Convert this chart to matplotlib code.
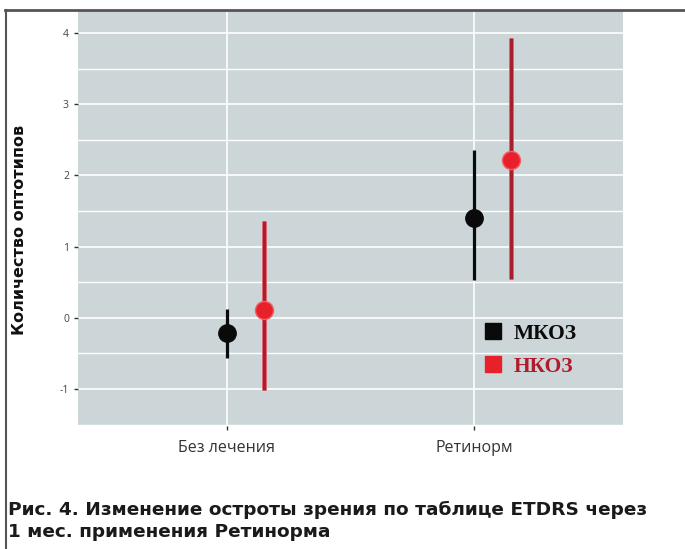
import matplotlib.pyplot as plt
import matplotlib.patheffects as pe
import numpy as np
from matplotlib.lines import Line2D

# data
groups = ["Без лечения", "Ретинорм"]
mkoz_mean = [-0.21, 1.40]
mkoz_low = [-0.57, 0.53]
mkoz_high = [0.13, 2.36]
nkoz_mean = [0.11, 2.22]
nkoz_low = [-1.02, 0.55]
nkoz_high = [1.36, 3.93]
y_ticks = [-1, 0, 1, 2, 3, 4]

PANEL_BG = "#ccd6d8"
BLACK = "#0a0a0a"
RED_POINT = "#e8202a"
RED_LINE = "#a81e2e"
DODGE = 0.15

fig = plt.figure(figsize=(6.85, 5.49), dpi=100)
ax = fig.add_axes([0.1139, 0.2240, 0.7956, 0.7559])
ax.set_facecolor(PANEL_BG)

x = np.arange(1, len(groups) + 1)

# MKOZ series
ax.vlines(x, mkoz_low, mkoz_high, color=BLACK, lw=2.3, zorder=3)
ax.plot(x, mkoz_mean, "o", color=BLACK, ms=12.5, zorder=4)

# NKOZ series, shifted right
xr = x + DODGE
ax.vlines(xr, nkoz_low, nkoz_high, color=RED_LINE, lw=2.2, zorder=3,
          path_effects=[pe.Stroke(linewidth=3.6, foreground="#e06a74"),
                        pe.Normal()])
ax.plot(xr, nkoz_mean, "o", color=RED_POINT, ms=13, mec="#f0606a", mew=1,
        zorder=4)

ax.set_xlim(0.397, 2.603)
ax.set_ylim(-1.52, 4.31)
ax.set_xticks(x)
ax.set_xticklabels(groups, family="Open Sans", fontsize=11.5, color="#333333")
ax.set_yticks(y_ticks)
ax.set_yticklabels([str(t) for t in y_ticks], family="Open Sans", fontsize=7.5,
                   color="#444444")
ax.set_yticks(np.arange(-1.5, 4.5, 1.0), minor=True)
ax.tick_params(axis="both", which="major", length=3, width=1, color="#333333")
ax.tick_params(axis="x", pad=7)
ax.tick_params(axis="y", which="minor", length=0)

ax.grid(True, which="major", color="white", lw=1.2)
ax.grid(True, which="minor", axis="y", color="white", lw=1.0)
ax.set_axisbelow(True)
for s in ax.spines.values():
    s.set_visible(False)

fig.text(20 / 685, 1 - 230 / 549, "Количество оптотипов", rotation=90,
         ha="center", va="center", fontsize=11.5, fontweight="bold",
         color="#111111")

handles = [
    Line2D([], [], marker="s", ls="", color=BLACK, ms=11),
    Line2D([], [], marker="s", ls="", color=RED_POINT, ms=11),
]
leg = fig.legend(handles, ["МКОЗ", "НКОЗ"], loc="upper left",
                 bbox_to_anchor=(471 / 685, 1 - 313 / 549), frameon=False,
                 borderpad=0, handlelength=1.0, handletextpad=0.5,
                 labelspacing=0.6,
                 labelcolor=[BLACK, "#b01c2c"],
                 prop={"family": "Liberation Serif", "weight": "bold", "size": 15.5})

# outer frame: top and left lines
fig.add_artist(Line2D([5 / 685, 684 / 685], [1 - 9.5 / 549, 1 - 9.5 / 549],
                      color="#555555", lw=2))
fig.add_artist(Line2D([5.5 / 685, 5.5 / 685], [0, 1 - 9.5 / 549],
                      color="#555555", lw=1.5))

fig.text(8 / 685, 1 - 515 / 549,
         "Рис. 4. Изменение остроты зрения по таблице ETDRS через",
         fontsize=13.3, fontweight="bold", color="#1a1a1a", va="baseline")
fig.text(8 / 685, 1 - 537 / 549, "1 мес. применения Ретинорма",
         fontsize=13.3, fontweight="bold", color="#1a1a1a", va="baseline")

fig.savefig("out.png", dpi=100)
